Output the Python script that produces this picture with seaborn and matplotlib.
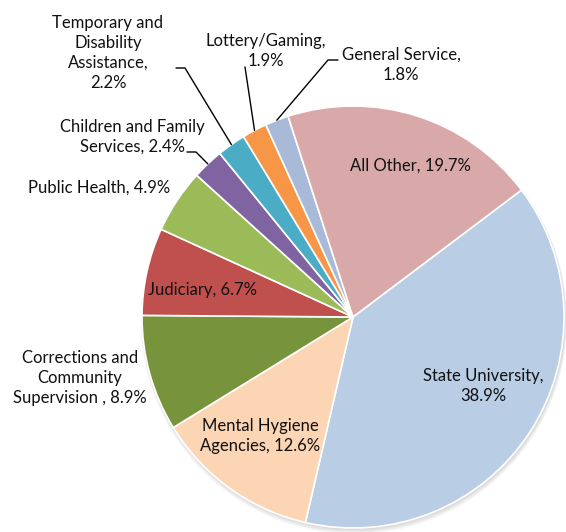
import numpy as np
import matplotlib
matplotlib.use("Agg")
import matplotlib.pyplot as plt
import seaborn as sns
from matplotlib.patches import Circle

# Spending shares by agency group (percent of total)
categories = [
    "State University",
    "Mental Hygiene Agencies",
    "Corrections and Community Supervision",
    "Judiciary",
    "Public Health",
    "Children and Family Services",
    "Temporary and Disability Assistance",
    "Lottery/Gaming",
    "General Service",
    "All Other",
]
shares = [38.9, 12.6, 8.9, 6.7, 4.9, 2.4, 2.2, 1.9, 1.8, 19.7]

# Label text as it is broken over lines on the chart
label_names = [
    "State University",
    "Mental Hygiene\nAgencies",
    "Corrections and\nCommunity\nSupervision",
    "Judiciary",
    "Public Health",
    "Children and Family\nServices",
    "Temporary and\nDisability\nAssistance",
    "Lottery/Gaming",
    "General Service",
    "All Other",
]
label_seps = [",\n", ", ", " , ", ", ", ", ", ", ", ",\n", ",\n", ",\n", ", "]

colors = sns.color_palette([
    "#B9CDE5", "#FCD5B5", "#77933C", "#C0504D", "#9BBB59",
    "#8064A2", "#4BACC6", "#F79646", "#A9B9D8", "#D9A9A9",
])

sns.set_theme(style="white")
plt.rcParams["font.family"] = ["Lato", "DejaVu Sans"]

W, H = 566, 532
fig = plt.figure(figsize=(W / 100, H / 100), dpi=100)
ax = fig.add_axes([0, 0, 1, 1])

cx, cy, R = 353, H - 317, 211

# soft drop shadow under the pie
for i, a in enumerate([0.05, 0.05, 0.05, 0.04]):
    ax.add_patch(Circle((cx + 1, cy - 1.5 - i * 0.8), R + 0.5 + i * 0.6,
                        facecolor="#404040", edgecolor="none", alpha=a, zorder=0))

wedges, _ = ax.pie(
    shares, colors=colors, startangle=37, counterclock=False,
    center=(cx, cy), radius=R, frame=False,
    wedgeprops=dict(edgecolor="white", linewidth=1.2, zorder=1),
)

# label centres (x, y from the top of the figure)
label_pos = [
    (483, 386), (260, 436), (80, 378), (203, 290), (99, 188),
    (132, 137), (108, 53), (266, 51), (401, 65), (410, 166),
]
for name, sep, v, (lx, ly) in zip(label_names, label_seps, shares, label_pos):
    ax.text(lx, H - ly, f"{name}{sep}{v:.1f}%", ha="center", va="center",
            multialignment="center", fontsize=12, color="#111111",
            linespacing=1.3, zorder=3)

# leader lines from outside labels to the rim of their wedges
leaders = {
    5: [(187, 152), (196, 152)],
    6: [(176, 68), (185, 68)],
    7: [(245, 67)],
    8: [(338, 60), (328, 60)],
}
for idx, pts in leaders.items():
    w = wedges[idx]
    mid = np.deg2rad((w.theta1 + w.theta2) / 2)
    ex, ey = cx + R * np.cos(mid), cy + R * np.sin(mid)
    xs = [p[0] for p in pts] + [ex]
    ys = [H - p[1] for p in pts] + [ey]
    ax.plot(xs, ys, color="black", linewidth=1.0, zorder=2)

ax.set_xlim(0, W)
ax.set_ylim(0, H)
ax.set_aspect("equal")
ax.axis("off")
fig.savefig("out.png", dpi=100, facecolor="white")
